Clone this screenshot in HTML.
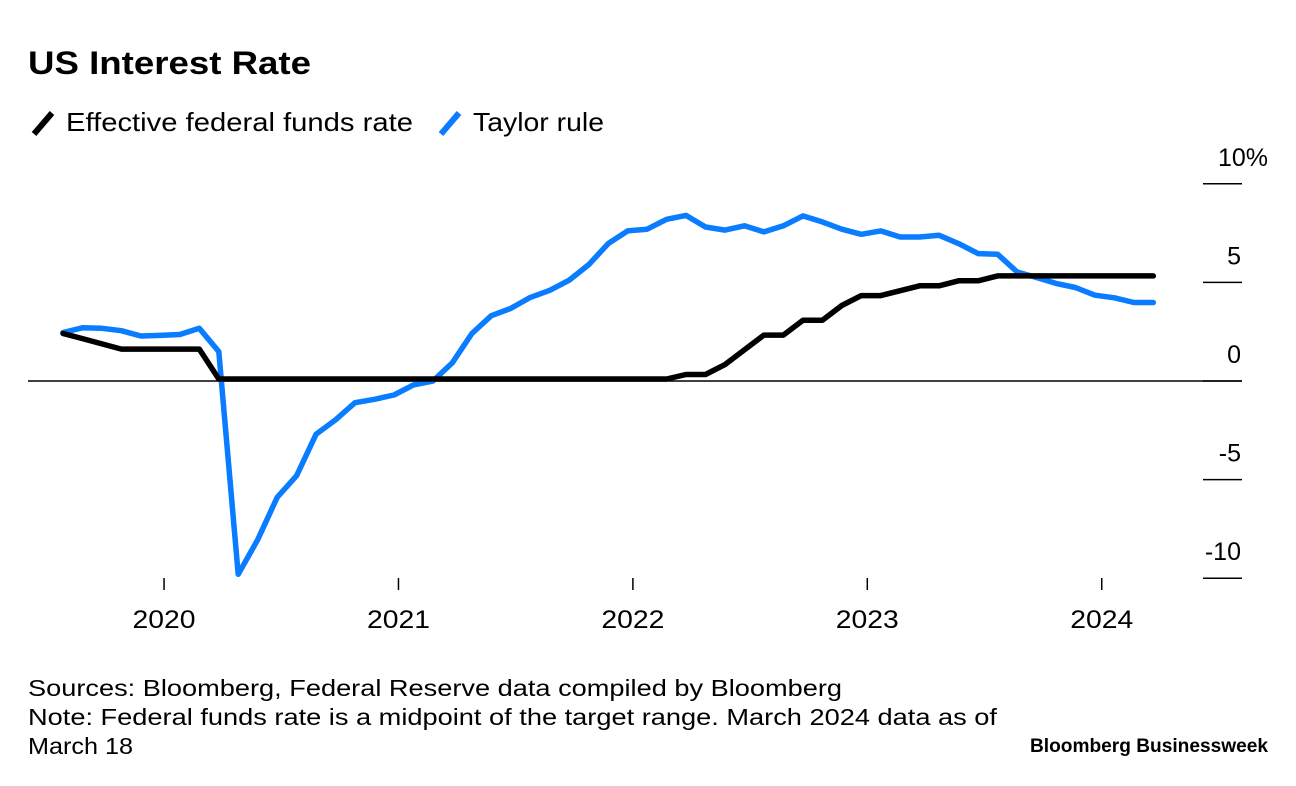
<!DOCTYPE html>
<html><head><meta charset="utf-8"><style>
body{margin:0;background:#fff;width:1296px;height:786px;overflow:hidden;font-family:"Liberation Sans",sans-serif;}
svg{display:block}
</style></head><body>
<svg width="1296" height="786">
<text x="28" y="74" font-size="32" font-weight="bold" fill="#000" textLength="283" lengthAdjust="spacingAndGlyphs">US Interest Rate</text>
<g>
<line x1="34" y1="134" x2="52" y2="113" stroke="#000" stroke-width="6"/>
<text x="66" y="131" font-size="26" textLength="347" lengthAdjust="spacingAndGlyphs">Effective federal funds rate</text>
<line x1="441" y1="134" x2="459" y2="113" stroke="#0a7cff" stroke-width="6"/>
<text x="473" y="131" font-size="26" textLength="131" lengthAdjust="spacingAndGlyphs">Taylor rule</text>
</g>
<g id="yaxis"></g>
<g id="xaxis"></g>
<line x1="28" y1="381" x2="1242" y2="381" stroke="#000" stroke-width="1.5"/>
<g id="series"></g>
<g font-size="23">
<text x="28" y="696" textLength="814" lengthAdjust="spacingAndGlyphs">Sources: Bloomberg, Federal Reserve data compiled by Bloomberg</text>
<text x="28" y="725" textLength="969" lengthAdjust="spacingAndGlyphs">Note: Federal funds rate is a midpoint of the target range. March 2024 data as of</text>
<text x="28" y="754" textLength="105" lengthAdjust="spacingAndGlyphs">March 18</text>
<text x="1268" y="752" font-size="19" font-weight="bold" text-anchor="end" textLength="238" lengthAdjust="spacingAndGlyphs">Bloomberg Businessweek</text>
</g>
</svg>
<script>
const taylor=[2.46,2.7,2.67,2.55,2.28,2.31,2.36,2.67,1.49,-9.8,-8.05,-5.9,-4.8,-2.7,-1.97,-1.1,-0.93,-0.71,-0.2,0,0.93,2.41,3.31,3.68,4.24,4.6,5.11,5.9,6.97,7.61,7.7,8.2,8.4,7.81,7.65,7.87,7.56,7.87,8.37,8.07,7.7,7.44,7.61,7.3,7.3,7.39,6.97,6.46,6.43,5.53,5.25,4.95,4.74,4.35,4.22,3.98,3.98];
const fedFunds=[2.41,2.15,1.88,1.62,1.62,1.62,1.62,1.62,0.1,0.1,0.1,0.1,0.1,0.1,0.1,0.1,0.1,0.1,0.1,0.1,0.1,0.1,0.1,0.1,0.1,0.1,0.1,0.1,0.1,0.1,0.1,0.1,0.33,0.33,0.83,1.58,2.33,2.33,3.08,3.08,3.83,4.33,4.33,4.58,4.83,4.83,5.08,5.08,5.33,5.33,5.33,5.33,5.33,5.33,5.33,5.33,5.33];
const yTicks=[10,5,0,-5,-10];
const yTickLabels=["10%","5","0","-5","-10"];
const xTickYears=[2020,2021,2022,2023,2024];
const NS="http://www.w3.org/2000/svg";
function x(i){return 63+i*19.47;}
function xYear(yr){return x(5+12.04*(yr-2020))+3.7;}
function y(v){return 381-v*19.72;}
function mk(t,a,p){const e=document.createElementNS(NS,t);for(const k in a)e.setAttribute(k,a[k]);p.appendChild(e);return e;}
const ya=document.getElementById('yaxis');
yTicks.forEach((v,k)=>{
 const l=mk('line',{x1:1203,x2:1242,y1:y(v),y2:y(v),stroke:'#000','stroke-width':1.5},ya);
 
 
 const lab=yTickLabels[k];
 const pct=lab.endsWith('%');
 const t=mk('text',{x:pct?1268:1241,y:y(v)-18,'font-size':25,'text-anchor':'end'},ya);
 t.textContent=lab;
 
 
});
const xa=document.getElementById('xaxis');
xTickYears.forEach(yr=>{
 const px=xYear(yr);
 const l=mk('line',{x1:px,x2:px,y1:578,y2:590,stroke:'#000','stroke-width':1.5},xa);
 
 
 const t=mk('text',{x:px,y:628,'font-size':25,'text-anchor':'middle',textLength:63,lengthAdjust:'spacingAndGlyphs'},xa);
 t.textContent=yr;
 
 
});
const sg=document.getElementById('series');
function line(arr,color,name){
 const d=arr.map((v,i)=>(i?'L':'M')+x(i).toFixed(1)+','+y(v).toFixed(1)).join(' ');
 const p=mk('path',{d:d,fill:'none',stroke:color,'stroke-width':5.5,'stroke-linejoin':'round','stroke-linecap':'round'},sg);
 
 
}
line(taylor,'#0a7cff','taylor-rule-line');
line(fedFunds,'#000','fed-funds-line');
</script>
</body></html>
